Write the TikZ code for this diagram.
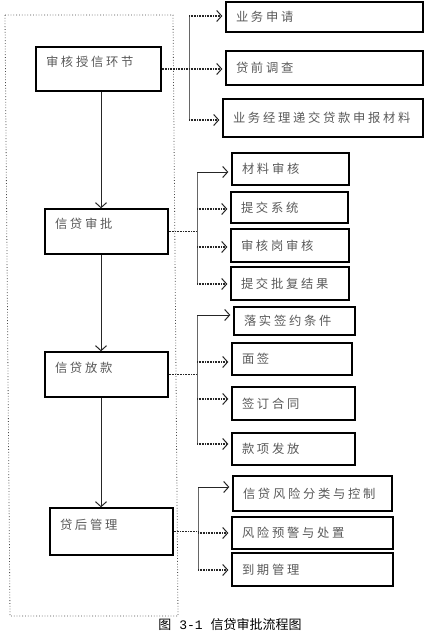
\documentclass[tikz,border=0pt]{standalone}
\usepackage{fontspec}
\newfontfamily\cjk[LetterSpace=22]{Noto Sans CJK SC}
\newfontfamily\cjkn{Noto Sans CJK SC}
\newfontfamily\monof{Liberation Mono}
\usetikzlibrary{arrows.meta}
\tikzset{
  box/.style={draw=black,line width=1.3pt,rectangle,inner xsep=10pt,inner ysep=0pt,
    align=left,font=\cjk\fontsize{12.3pt}{14pt}\selectfont,text=black!65,
    text height=10pt,text depth=1pt},
  mainbox/.style={box,text height=10pt,text depth=15pt},
  tip/.style={-{Straight Barb[length=5pt,width=11pt,line width=1pt]}},
  dotarr/.style={tip,dash pattern=on 1pt off 0.6pt,line width=1.4pt,black!85,shorten >=3pt},
  solarr/.style={tip,line width=0.9pt,black!85,shorten >=3pt},
  spine/.style={line width=1pt,black!60},
  feed/.style={dash pattern=on 1pt off 0.6pt,line width=1.4pt,black!85},
  downarr/.style={tip,line width=0.9pt,black!85},
  frame/.style={dotted,line width=0.8pt,black!70}
}
\newcommand\bx[7][box]{%
  \pgfmathsetmacro\bxw{#5-#3}\pgfmathsetmacro\bxh{#6-#4}\pgfmathsetmacro\bxt{#5-#3-20}%
  \node[#1,minimum width=\bxw pt,minimum height=\bxh pt,text width=\bxt pt] (#2) at ({(#3+#5)/2},{(#4+#6)/2}) {#7};}
\begin{document}
\begin{tikzpicture}[x=1pt,y=-1pt]
\useasboundingbox (0,0) rectangle (437,636);
% outer dotted frame
\draw[frame] (5,15) -- (173,15) -- (178,616) -- (10,616) -- cycle;
% main boxes
\bx[mainbox]{b1}{36}{47}{161}{91}{审核授信环节}
\bx[mainbox]{b2}{45}{209}{168}{254}{信贷审批}
\bx[mainbox]{b3}{45}{352}{168}{397}{信贷放款}
\bx[mainbox]{b4}{50}{508}{173}{555}{贷后管理}
% group 1
\bx{a1}{226}{2}{423}{32}{业务申请}
\bx{a2}{226}{51}{423}{85}{贷前调查}
\bx{a3}{223}{99}{423}{137}{业务经理递交贷款申报材料}
% group 2
\bx{c1}{232}{153}{349}{185}{材料审核}
\bx{c2}{231}{192}{348}{223}{提交系统}
\bx{c3}{231}{229}{349}{262}{审核岗审核}
\bx{c4}{231}{267}{349}{300}{提交批复结果}
% group 3
\bx{d1}{234}{307}{355}{335}{落实签约条件}
\bx{d2}{232}{343}{352}{375}{面签}
\bx{d3}{232}{387}{355}{420}{签订合同}
\bx{d4}{232}{433}{355}{465}{款项发放}
% group 4
\bx{e1}{233}{476}{392}{511}{信贷风险分类与控制}
\bx{e2}{232}{517}{393}{549}{风险预警与处置}
\bx{e3}{232}{553}{393}{586}{到期管理}
% main flow
\coordinate (m) at (101,0);
\draw[downarr] (b1.south -| m) -- (b2.north -| m);
\draw[downarr] (b2.south -| m) -- (b3.north -| m);
\draw[downarr] (b3.south -| m) -- (b4.north -| m);
% spine coordinates (arrow entry points)
\coordinate (p11) at (189,16);  \coordinate (p12) at (189,69);  \coordinate (p13) at (189,120);
\coordinate (p21) at (197,172); \coordinate (p22) at (197,209); \coordinate (p23) at (197,247); \coordinate (p24) at (197,284);
\coordinate (p31) at (197,315); \coordinate (p32) at (197,362); \coordinate (p33) at (197,399); \coordinate (p34) at (197,444);
\coordinate (p41) at (198,487); \coordinate (p42) at (198,533); \coordinate (p43) at (198,570);
% spines
\draw[spine] (p11) -- (p13);
\draw[spine] (p21) -- (p24);
\draw[spine] (p31) -- (p34);
\draw[spine] (p41) -- (p43);
% feeds from main boxes
\draw[feed] (b1.east) -- (b1.east -| p11);
\draw[feed] (b2.east) -- (b2.east -| p21);
\draw[feed] (b3.east) -- (b3.east -| p31);
\draw[feed] (b4.east) -- (b4.east -| p41);
% branch arrows
\draw[dotarr] (p11) -- (p11 -| a1.west);
\draw[dotarr] (p12) -- (p12 -| a2.west);
\draw[dotarr] (p13) -- (p13 -| a3.west);
\draw[solarr] (p21) -- (p21 -| c1.west);
\draw[dotarr] (p22) -- (p22 -| c2.west);
\draw[dotarr] (p23) -- (p23 -| c3.west);
\draw[dotarr] (p24) -- (p24 -| c4.west);
\draw[solarr] (p31) -- (p31 -| d1.west);
\draw[dotarr] (p32) -- (p32 -| d2.west);
\draw[dotarr] (p33) -- (p33 -| d3.west);
\draw[dotarr] (p34) -- (p34 -| d4.west);
\draw[solarr] (p41) -- (p41 -| e1.west);
\draw[dotarr] (p42) -- (p42 -| e2.west);
\draw[dotarr] (p43) -- (p43 -| e3.west);
% caption
\node[font=\cjkn\fontsize{13pt}{15pt}\selectfont,text=black,inner sep=0pt] (cap) at (230,625)
  {图\hspace{8pt}{\monof 3-1}\hspace{8pt}信贷审批流程图};
\end{tikzpicture}
\end{document}
